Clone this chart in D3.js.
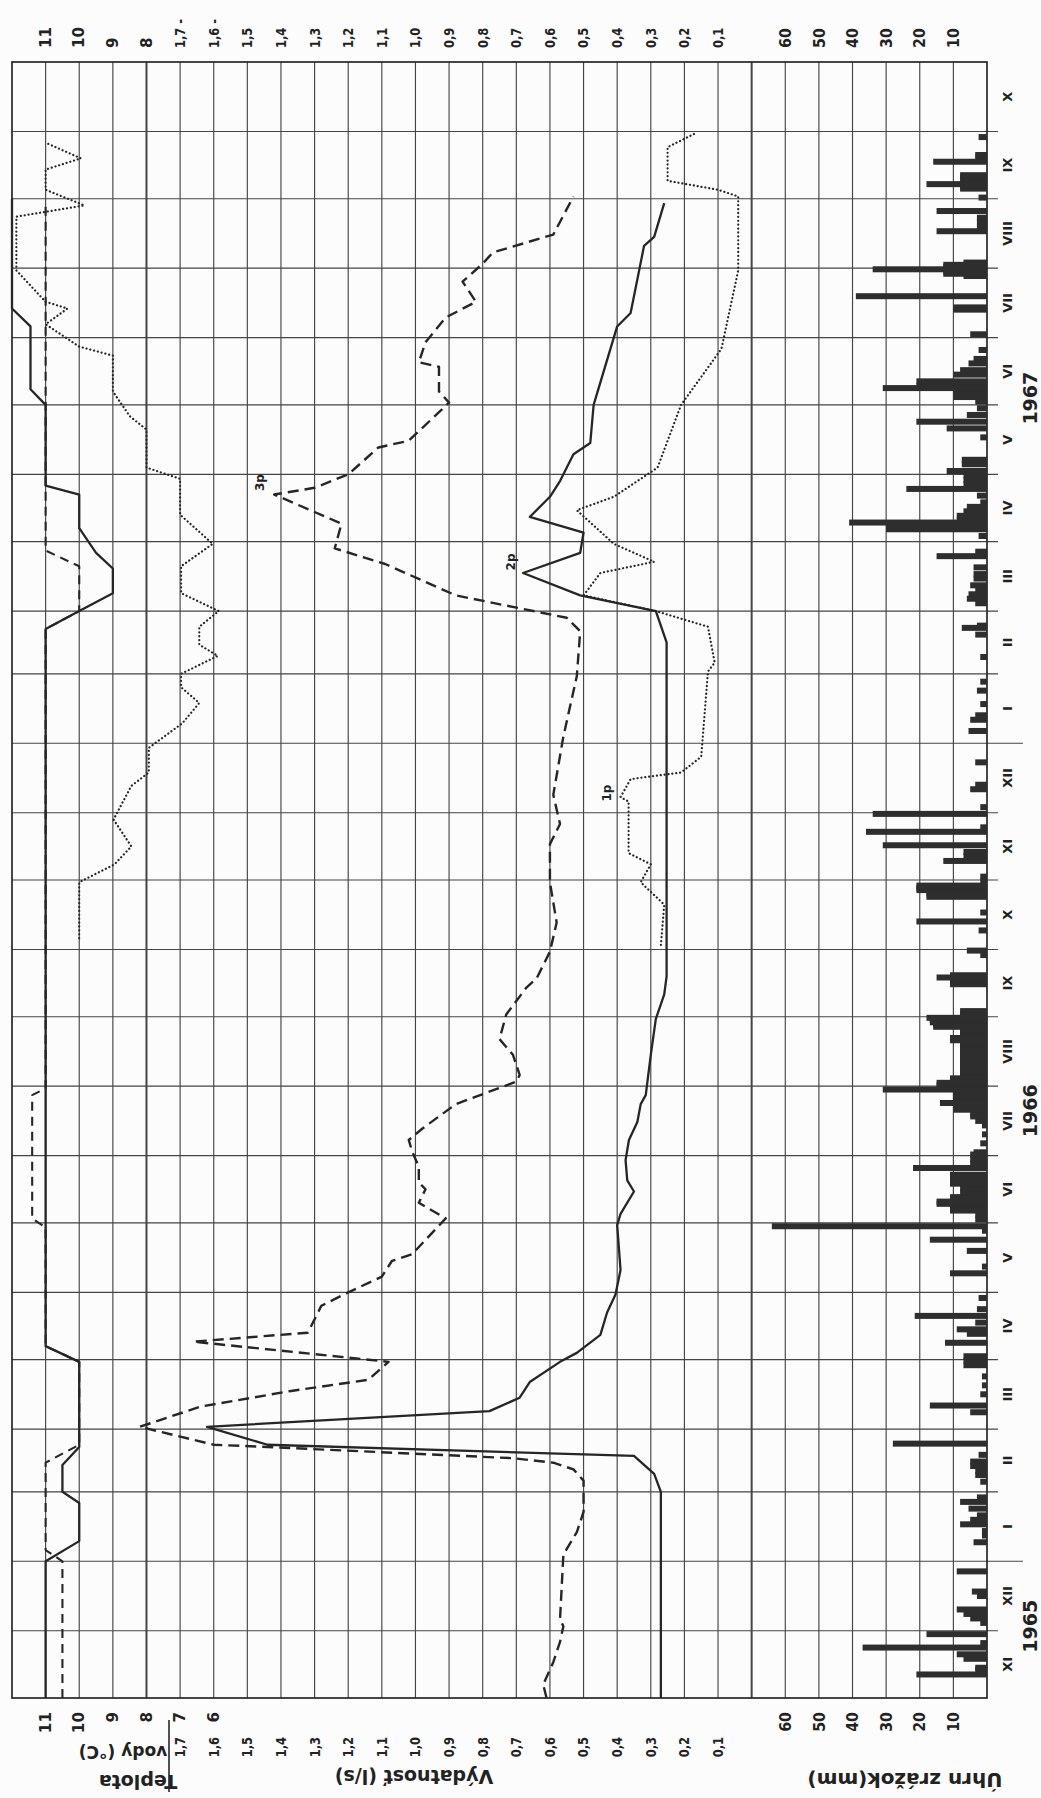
<!DOCTYPE html>
<html>
<head>
<meta charset="utf-8">
<script src="https://cdn.jsdelivr.net/npm/d3@7"></script>
<style>
  body { margin: 0; background: #fcfcfc; }
  svg { display: block; }
  text { font-family: "DejaVu Sans", "Liberation Sans", sans-serif; fill: #222; font-weight: bold; }
</style>
</head>
<body>
<svg id="chart" width="1041" height="1798"></svg>
<script>
// ---- data -------------------------------------------------------------
const monthLabels = ["XI","XII","I","II","III","IV","V","VI","VII","VIII","IX","X",
                     "XI","XII","I","II","III","IV","V","VI","VII","VIII","IX","X"];
const yearLabels = [["1965-12-03","1965"],["1966-07-21","1966"],["1967-06-04","1967"]];

const tempTicksBottom = [11,10,9,8,7,6];
const tempTicksTop = [11,10,9,8];
const flowTicks = [1.7,1.6,1.5,1.4,1.3,1.2,1.1,1.0,0.9,0.8,0.7,0.6,0.5,0.4,0.3,0.2,0.1];
const rainTicks = [60,50,40,30,20,10];

// discharge (l/s)
const flowSolid = [
  ["1965-11-01",0.27],["1966-02-01",0.27],["1966-02-09",0.29],["1966-02-17",0.35],
  ["1966-02-22",1.44],["1966-03-02",1.62],["1966-03-09",0.78],["1966-03-15",0.69],
  ["1966-03-22",0.66],["1966-03-31",0.57],["1966-04-04",0.52],["1966-04-12",0.45],
  ["1966-04-22",0.43],["1966-04-30",0.405],["1966-05-11",0.39],["1966-05-31",0.40],
  ["1966-06-05",0.39],["1966-06-15",0.35],["1966-06-20",0.37],["1966-06-29",0.375],
  ["1966-07-08",0.365],["1966-07-16",0.34],["1966-07-24",0.33],["1966-07-28",0.315],
  ["1966-08-15",0.30],["1966-08-31",0.285],["1966-09-11",0.26],["1966-09-19",0.253],
  ["1967-02-15",0.253],["1967-03-01",0.285],["1967-03-08",0.51],["1967-03-18",0.68],
  ["1967-03-27",0.51],["1967-04-05",0.50],["1967-04-12",0.66],["1967-04-21",0.60],
  ["1967-04-28",0.57],["1967-05-10",0.53],["1967-05-15",0.48],["1967-06-01",0.47],
  ["1967-07-06",0.40],["1967-07-12",0.36],["1967-08-11",0.32],["1967-08-15",0.29],
  ["1967-08-30",0.26]
];
const flowDashed = [
  ["1965-11-01",0.61],["1965-11-07",0.62],["1965-11-17",0.59],["1965-11-26",0.57],
  ["1965-12-03",0.56],["1965-12-06",0.57],["1966-01-04",0.56],["1966-01-14",0.52],
  ["1966-01-23",0.50],["1966-02-06",0.50],["1966-02-11",0.53],["1966-02-14",0.59],
  ["1966-02-16",0.71],["1966-02-21",1.44],["1966-02-22",1.60],["1966-03-02",1.82],
  ["1966-03-11",1.64],["1966-03-18",1.37],["1966-03-23",1.14],["1966-03-31",1.08],
  ["1966-04-09",1.66],["1966-04-13",1.32],["1966-04-25",1.28],["1966-05-01",1.20],
  ["1966-05-08",1.10],["1966-05-15",1.07],["1966-05-18",1.01],["1966-06-03",0.91],
  ["1966-06-10",0.99],["1966-06-16",0.97],["1966-06-19",0.99],["1966-06-26",0.99],
  ["1966-07-03",1.01],["1966-07-08",1.02],["1966-07-13",0.98],["1966-07-24",0.88],
  ["1966-08-03",0.70],["1966-08-06",0.69],["1966-08-15",0.71],["1966-08-22",0.75],
  ["1966-09-02",0.73],["1966-09-14",0.67],["1966-09-18",0.64],["1966-09-30",0.60],
  ["1966-10-13",0.58],["1966-10-31",0.60],["1966-11-17",0.60],["1966-11-26",0.57],
  ["1966-12-09",0.59],["1967-01-04",0.56],["1967-01-31",0.52],["1967-02-20",0.51],
  ["1967-02-26",0.55],["1967-03-08",0.88],["1967-03-22",1.09],["1967-03-29",1.24],
  ["1967-04-09",1.22],["1967-04-22",1.42],["1967-04-25",1.30],["1967-05-01",1.20],
  ["1967-05-13",1.11],["1967-05-16",1.02],["1967-06-02",0.90],["1967-06-07",0.93],
  ["1967-06-18",0.93],["1967-06-20",0.99],["1967-06-29",0.97],["1967-07-10",0.91],
  ["1967-07-17",0.82],["1967-07-26",0.86],["1967-08-03",0.80],["1967-08-08",0.77],
  ["1967-08-16",0.59],["1967-09-02",0.53]
];
const flowDotted = [
  ["1966-10-03",0.27],["1966-10-21",0.26],["1966-10-31",0.33],["1966-11-08",0.30],
  ["1966-11-13",0.366],["1966-12-06",0.366],["1966-12-08",0.39],["1966-12-16",0.36],
  ["1966-12-19",0.21],["1966-12-26",0.15],["1967-02-02",0.13],["1967-02-06",0.11],
  ["1967-02-22",0.13],["1967-03-01",0.285],["1967-03-08",0.50],["1967-03-18",0.45],
  ["1967-03-23",0.29],["1967-03-31",0.41],["1967-04-15",0.52],["1967-04-21",0.41],
  ["1967-05-04",0.28],["1967-06-01",0.21],["1967-06-26",0.09],["1967-07-31",0.04],
  ["1967-09-02",0.04],["1967-09-05",0.10],["1967-09-09",0.25],["1967-09-24",0.25],
  ["1967-09-30",0.17]
];

// water temperature (°C)
const tempSolid = [
  ["1965-11-01",11],["1966-01-01",11],["1966-01-10",10],["1966-01-27",10],
  ["1966-02-01",10.5],["1966-02-13",10.5],["1966-02-21",10],["1966-03-31",10],
  ["1966-04-07",11],["1967-02-21",11],["1967-03-01",10],["1967-03-09",9],
  ["1967-03-20",9],["1967-03-27",9.5],["1967-04-07",10],["1967-04-22",10],
  ["1967-04-26",11],["1967-06-01",11],["1967-06-08",11.45],["1967-07-06",11.45],
  ["1967-07-14",12],["1967-09-01",12]
];
const tempDashed = [
  ["1965-11-01",10.5],["1966-01-01",10.5],["1966-01-06",11],["1966-02-14",11],
  ["1966-02-22",10],["1966-03-31",10],["1966-04-07",11],["1966-05-30",11],
  ["1966-06-03",11.4],["1966-07-28",11.4],["1966-07-31",11],["1967-02-21",11],
  ["1967-03-01",10],["1967-03-21",10],["1967-03-28",11],["1967-08-30",11]
];
const tempDotted = [
  ["1966-10-06",10],["1966-10-31",10],["1966-11-08",8.95],["1966-11-16",8.45],
  ["1966-11-28",8.98],["1966-12-13",8.45],["1966-12-19",7.93],["1966-12-30",7.93],
  ["1967-01-10",6.93],["1967-01-19",6.43],["1967-01-26",6.97],["1967-02-01",6.97],
  ["1967-02-09",5.88],["1967-02-14",6.43],["1967-02-22",6.43],["1967-03-01",5.85],
  ["1967-03-09",6.97],["1967-03-21",6.97],["1967-03-31",6.03],["1967-04-13",7],
  ["1967-04-29",7],["1967-05-04",8],["1967-05-21",8],["1967-05-27",8.5],
  ["1967-06-07",9],["1967-06-23",9],["1967-06-27",10],["1967-07-07",11],
  ["1967-07-14",10.35],["1967-07-17",11],["1967-07-31",11.87],["1967-08-24",11.87],
  ["1967-08-29",9.85],["1967-09-05",11],["1967-09-14",11],["1967-09-19",9.95],
  ["1967-09-26",11]
];

// daily precipitation (mm), rain days only
const rainfall = [
  ["1965-11-11",21],["1965-11-13",3.5],["1965-11-14",3.5],["1965-11-18",7],["1965-11-20",9],
  ["1965-11-23",37],["1965-11-25",2],["1965-11-29",18],
  ["1965-12-04",2],["1965-12-06",5],["1965-12-08",7],["1965-12-10",9],["1965-12-16",3],
  ["1965-12-18",4.5],["1965-12-27",9],
  ["1966-01-09",4],["1966-01-12",1.5],["1966-01-14",1.5],["1966-01-17",8],["1966-01-19",5],
  ["1966-01-21",3],["1966-01-24",5.5],["1966-01-27",8],["1966-01-29",3],
  ["1966-02-05",2],["1966-02-08",3.5],["1966-02-10",3.5],["1966-02-12",5],["1966-02-14",5],
  ["1966-02-17",2.5],["1966-02-22",28],
  ["1966-03-08",5],["1966-03-11",17],["1966-03-16",2],["1966-03-20",1.5],["1966-03-24",1.5],
  ["1966-03-29",7],["1966-03-31",7],
  ["1966-04-02",7],["1966-04-08",12.5],["1966-04-12",6],["1966-04-14",9],["1966-04-17",3.5],
  ["1966-04-20",21.5],["1966-04-23",3],["1966-04-28",2.5],
  ["1966-05-09",11],["1966-05-12",1.5],["1966-05-19",6],["1966-05-24",17],["1966-05-28",1.5],
  ["1966-05-30",64],
  ["1966-06-02",3.5],["1966-06-04",3.5],["1966-06-06",11],["1966-06-08",11],["1966-06-09",15],
  ["1966-06-10",15],["1966-06-12",11],["1966-06-14",8],["1966-06-16",8],["1966-06-18",11],
  ["1966-06-20",11],["1966-06-22",11],["1966-06-25",22],["1966-06-27",5],["1966-06-29",5],
  ["1966-07-01",5],["1966-07-02",4],["1966-07-06",2],["1966-07-10",1.5],["1966-07-14",1.5],
  ["1966-07-16",3.5],["1966-07-18",5],["1966-07-19",5],["1966-07-21",10],["1966-07-22",10],
  ["1966-07-23",10],["1966-07-24",14],["1966-07-25",10],["1966-07-26",10],["1966-07-27",10],
  ["1966-07-28",10],["1966-07-29",10],["1966-07-30",31],["1966-07-31",10],
  ["1966-08-01",15],["1966-08-02",15],["1966-08-03",11],["1966-08-04",11],["1966-08-05",8],
  ["1966-08-06",8],["1966-08-07",8],["1966-08-08",8],["1966-08-09",8],["1966-08-10",8],
  ["1966-08-11",8],["1966-08-12",8],["1966-08-13",8],["1966-08-14",8],["1966-08-15",8],
  ["1966-08-16",8],["1966-08-17",8],["1966-08-18",8],["1966-08-19",8],["1966-08-20",8],
  ["1966-08-21",11],["1966-08-22",11],["1966-08-23",8],["1966-08-24",8],["1966-08-25",8],
  ["1966-08-26",8],["1966-08-27",16],["1966-08-28",16],["1966-08-29",17],["1966-08-30",17],
  ["1966-08-31",18],
  ["1966-09-01",8],["1966-09-02",8],["1966-09-03",8],["1966-09-15",11],["1966-09-16",11],
  ["1966-09-17",11],["1966-09-18",15],["1966-09-19",11],["1966-09-28",2],["1966-09-30",6],
  ["1966-10-09",2.5],["1966-10-13",21],["1966-10-17",2],["1966-10-24",18],["1966-10-25",18],
  ["1966-10-26",18],["1966-10-27",21],["1966-10-28",21],["1966-10-29",21],["1966-10-31",2],
  ["1966-11-02",2],["1966-11-09",13],["1966-11-11",7],["1966-11-13",7],["1966-11-16",31],
  ["1966-11-22",36],["1966-11-24",2],["1966-11-30",34],
  ["1966-12-03",2],["1966-12-11",5],["1966-12-13",3.5],["1966-12-23",3.5],
  ["1967-01-06",5.5],["1967-01-11",5],["1967-01-13",3.5],["1967-01-18",2],["1967-01-24",3],
  ["1967-01-28",2],
  ["1967-02-08",2],["1967-02-18",3.5],["1967-02-21",7.5],["1967-02-22",3],
  ["1967-03-04",3.5],["1967-03-06",6],["1967-03-08",5.5],["1967-03-10",3.5],["1967-03-12",5],
  ["1967-03-15",4],["1967-03-17",4],["1967-03-20",4],["1967-03-25",15],["1967-03-27",3.5],
  ["1967-04-03",2.5],["1967-04-06",30],["1967-04-07",30],["1967-04-09",41],["1967-04-10",9],
  ["1967-04-12",9],["1967-04-14",7],["1967-04-16",6],["1967-04-18",2],["1967-04-21",3],
  ["1967-04-24",24],["1967-04-26",7],["1967-04-28",7],["1967-04-30",7],
  ["1967-05-02",12],["1967-05-05",7.5],["1967-05-07",7.5],["1967-05-17",2],["1967-05-21",12],
  ["1967-05-24",21],["1967-05-27",6],["1967-05-30",3],
  ["1967-06-02",3.5],["1967-06-04",10],["1967-06-06",10],["1967-06-08",31],["1967-06-09",21],
  ["1967-06-11",21],["1967-06-14",10],["1967-06-16",8],["1967-06-19",5.5],["1967-06-21",4],
  ["1967-06-25",2.5],
  ["1967-07-02",5],["1967-07-13",10],["1967-07-14",10],["1967-07-19",39],["1967-07-28",7],
  ["1967-07-29",13],["1967-07-30",13],["1967-07-31",34],
  ["1967-08-01",13],["1967-08-02",13],["1967-08-03",7],["1967-08-17",15],["1967-08-19",3],
  ["1967-08-21",3],["1967-08-23",3],["1967-08-26",15],
  ["1967-09-01",2.5],["1967-09-05",8],["1967-09-06",8],["1967-09-07",18],["1967-09-09",8],
  ["1967-09-10",8],["1967-09-11",8],["1967-09-17",16],["1967-09-19",3.5],["1967-09-20",3.5],
  ["1967-09-28",2.5]
];

// spring tags placed next to their peaks
const springTags = [
  {label:"1p", date:"1966-12-08", value:0.39, dx:-14, dy:-4},
  {label:"2p", date:"1967-03-18", value:0.68, dx:-12, dy:-11},
  {label:"3p", date:"1967-04-22", value:1.42, dx:-14, dy:-12}
];

// ---- scales -----------------------------------------------------------
const svg = d3.select("#chart");
const L = 12, R = 987, T = 62, B = 1698;
const parse = d3.utcParse("%Y-%m-%d");
const t0 = parse("1965-11-01"), t1 = parse("1967-11-01");

// one shared grid of 29 columns; each quantity uses its own linear scale on it
const col = d3.scaleLinear().domain([0, 29]).range([L, R]);
const tempX = d3.scaleLinear().domain([12, -17]).range([L, R]);
const flowX = d3.scaleLinear().domain([2.2, -0.7]).range([L, R]);
const rainX = d3.scaleLinear().domain([290, 0]).range([L, R]);
const y = d3.scaleUtc().domain([t0, t1]).range([B, T]);
const dayMid = s => d3.utcHour.offset(parse(s), 12);

const ink = "#262626";

// ---- grid -------------------------------------------------------------
const grid = svg.append("g");
d3.range(1, 29).forEach(c => {
  grid.append("line")
    .attr("x1", col(c)).attr("x2", col(c)).attr("y1", T).attr("y2", B)
    .attr("stroke", "#454545")
    .attr("stroke-width", (c === 4 || c === 22) ? 2 : 1.15);
});
const monthStarts = d3.utcMonth.range(d3.utcMonth.offset(t0, 1), t1);
monthStarts.forEach(m => {
  const ext = m.getUTCMonth() === 0 ? 36 : 11;
  grid.append("line")
    .attr("x1", L).attr("x2", R + ext).attr("y1", y(m)).attr("y2", y(m))
    .attr("stroke", "#454545").attr("stroke-width", 1.15);
});
grid.append("rect")
  .attr("x", L).attr("y", T).attr("width", R - L).attr("height", B - T)
  .attr("fill", "none").attr("stroke", ink).attr("stroke-width", 1.7);

// ---- precipitation bars ----------------------------------------------
const barH = 6;
svg.append("g").selectAll("rect")
  .data(rainfall.slice().sort((a, b) => a[1] - b[1]))
  .join("rect")
  .attr("x", d => rainX(d[1]))
  .attr("width", d => rainX(0) - rainX(d[1]))
  .attr("y", d => y(dayMid(d[0])) - barH / 2)
  .attr("height", barH)
  .attr("fill", "#2e2e2e");

// ---- lines ------------------------------------------------------------
function drawLine(data, xs, dash, width) {
  const line = d3.line().x(d => xs(d[1])).y(d => y(parse(d[0])));
  svg.append("path")
    .attr("d", line(data))
    .attr("fill", "none")
    .attr("stroke", ink)
    .attr("stroke-width", width)
    .attr("stroke-linejoin", "round")
    .attr("stroke-linecap", dash === "dot" ? "round" : "butt")
    .attr("stroke-dasharray", dash === "dot" ? "0.1,3.8" : dash);
}
drawLine(tempSolid, tempX, null, 2.3);
drawLine(tempDashed, tempX, "9,6", 2.1);
drawLine(tempDotted, tempX, "dot", 2.2);
drawLine(flowSolid, flowX, null, 2.3);
drawLine(flowDashed, flowX, "11,6", 2.4);
drawLine(flowDotted, flowX, "dot", 2.2);

svg.append("g").selectAll("text")
  .data(springTags).join("text")
  .attr("transform", d => `translate(${flowX(d.value) + d.dx},${y(parse(d.date)) + d.dy}) rotate(-90)`)
  .attr("text-anchor", "middle").attr("dominant-baseline", "central")
  .attr("font-size", 12).text(d => d.label);

// ---- value labels -----------------------------------------------------
const fmtFlow = d3.format(".1f");
const comma = v => fmtFlow(v).replace(".", ",");
function labels(vals, xs, fmt, yy, anchor, size, squeeze) {
  svg.append("g").selectAll("text")
    .data(vals).join("text")
    .attr("transform", d => `translate(${xs(d)},${yy}) rotate(-90) scale(${squeeze},1)`)
    .attr("text-anchor", anchor)
    .attr("dominant-baseline", "central")
    .attr("font-size", size)
    .text(fmt);
}
// bottom
labels(tempTicksBottom, tempX, d => d, 1712, "end", 16, 0.95);
labels(flowTicks, flowX, comma, 1737, "end", 14, 0.82);
labels(rainTicks, rainX, d => d, 1712, "end", 15, 0.95);
// top
labels(tempTicksTop, tempX, d => d, 48, "start", 16, 0.95);
labels(flowTicks, flowX, d => (d >= 1.6 ? comma(d) + " -" : comma(d)), 48, "start", 14, 0.82);
labels(rainTicks, rainX, d => d, 48, "start", 15, 0.95);

// ---- axis titles (printed along the value axes) -----------------------
function title(txt, x, yy, size) {
  svg.append("text")
    .attr("transform", `translate(${x},${yy}) rotate(180)`)
    .attr("text-anchor", "middle").attr("dominant-baseline", "central")
    .attr("font-size", size).text(txt);
}
title("Teplota", 138, 1782, 19);
title("vody (°C)", 123, 1752, 17);
svg.append("line")
  .attr("x1", 169).attr("x2", 169).attr("y1", 1720).attr("y2", 1792)
  .attr("stroke", ink).attr("stroke-width", 1.6);
title("Výdatnosť (l/s)", 414, 1777, 19);
title("Úhrn zrážok(mm)", 905, 1780, 20);

// ---- time labels ------------------------------------------------------
const monthAll = d3.utcMonth.range(t0, t1);
svg.append("g").selectAll("text")
  .data(monthAll).join("text")
  .attr("transform", d => {
    const mid = new Date((+d + +d3.utcMonth.offset(d, 1)) / 2);
    return `translate(1007,${y(mid)}) rotate(-90)`;
  })
  .attr("text-anchor", "middle").attr("dominant-baseline", "central")
  .attr("font-size", 13)
  .text((d, i) => monthLabels[i]);

svg.append("g").selectAll("text")
  .data(yearLabels).join("text")
  .attr("transform", d => `translate(1030,${y(parse(d[0]))}) rotate(-90)`)
  .attr("text-anchor", "middle").attr("dominant-baseline", "central")
  .attr("font-size", 19)
  .text(d => d[1]);
</script>
</body>
</html>
